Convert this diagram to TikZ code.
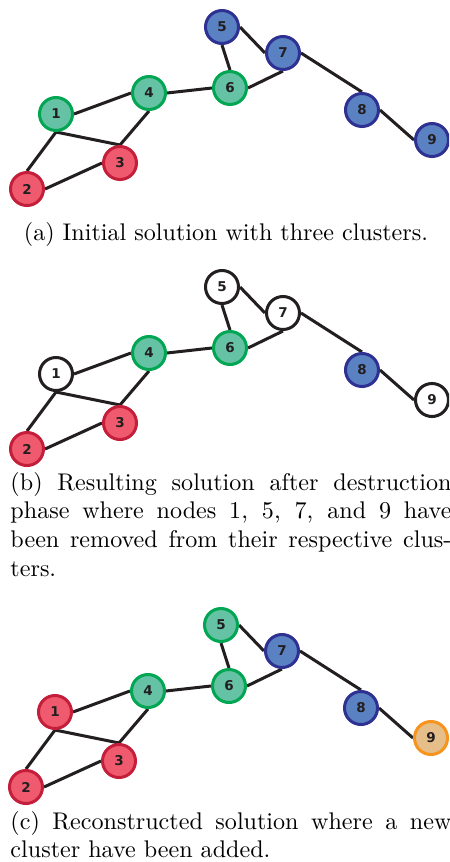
\documentclass[tikz,border=0pt]{standalone}
\usepackage{fontspec}
\newfontfamily\nodefont{DejaVu Sans}
\usetikzlibrary{backgrounds}
\definecolor{grnF}{HTML}{66C2A5}
\definecolor{grnD}{HTML}{00A651}
\definecolor{redF}{HTML}{EF5A6E}
\definecolor{redD}{HTML}{C41E3A}
\definecolor{bluF}{HTML}{5A82C3}
\definecolor{bluD}{HTML}{2E3192}
\definecolor{orgF}{HTML}{E5BE8A}
\definecolor{orgD}{HTML}{F7941D}
\definecolor{txt}{HTML}{231F20}
\tikzset{
  nd/.style={circle, draw, line width=1.25pt, inner sep=0pt, minimum size=13.7pt,
    font=\nodefont\bfseries\fontsize{5.6}{6}\selectfont, text=txt},
  G/.style={fill=grnF, draw=grnD},
  R/.style={fill=redF, draw=redD},
  B/.style={fill=bluF, draw=bluD},
  O/.style={fill=orgF, draw=orgD},
  W/.style={fill=white, draw=txt},
  edg/.style={line width=1.25pt, draw=txt},
  captxt/.style={inner sep=0pt, font=\normalsize},
  capw/.style={inner sep=0pt, font=\normalsize, text width=183pt, align=justify}
}
\newcommand{\clgraph}[1]{%
  \node[nd,s1] (#11) at (56,114) {1};
  \node[nd,s2] (#12) at (27,189) {2};
  \node[nd,s3] (#13) at (120,163) {3};
  \node[nd,s4] (#14) at (149,93) {4};
  \node[nd,s5] (#15) at (222,27) {5};
  \node[nd,s6] (#16) at (230,88) {6};
  \node[nd,s7] (#17) at (283,53) {7};
  \node[nd,s8] (#18) at (362,110) {8};
  \node[nd,s9] (#19) at (432,140) {9};
  \begin{pgfonlayer}{background}
  \draw[edg] (#11.east) -- (#14.west);
  \draw[edg] (#11.south) -- (#13.north);
  \draw[edg] (#11.south) -- (#12.north);
  \draw[edg] (#12.east) -- (#13.west);
  \draw[edg] (#14.south) -- (#13.north);
  \draw[edg] (#14.east) -- (#16.west);
  \draw[edg] (#15.south) -- (#16.north);
  \draw[edg] (#15.east) -- (#17.west);
  \draw[edg] (#16.east) -- (#17.south);
  \draw[edg] (#17.east) -- (#18.north);
  \draw[edg] (#18.east) -- (#19.west);
  \end{pgfonlayer}
}
\begin{document}
\begin{tikzpicture}[x=0.415pt, y=-0.415pt]
\useasboundingbox (0,0) rectangle (449,862);
\clip (0,0) rectangle (449,862);
\begin{scope}[s1/.style=G, s2/.style=R, s3/.style=R, s4/.style=G, s5/.style=B,
  s6/.style=G, s7/.style=B, s8/.style=B, s9/.style=B]
  \clgraph{a}
\end{scope}
\begin{scope}[shift={(0,260)}, s1/.style=W, s2/.style=R, s3/.style=R, s4/.style=G, s5/.style=W,
  s6/.style=G, s7/.style=W, s8/.style=B, s9/.style=W]
  \clgraph{b}
\end{scope}
\begin{scope}[shift={(-1,598)}, s1/.style=R, s2/.style=R, s3/.style=R, s4/.style=G, s5/.style=G,
  s6/.style=G, s7/.style=B, s8/.style=B, s9/.style=O]
  \clgraph{c}
\end{scope}
\node[captxt, anchor=base] (capa) at (226,240) {(a) Initial solution with three clusters.};
\node[capw, anchor=base west] (capb) at (10,490) {(b) Resulting solution after destruction\linebreak
  phase where nodes 1, 5, 7, and 9 have\linebreak been removed from their respective clus-\linebreak ters.};
\node[capw, anchor=base west] (capc) at (10,829) {(c) Reconstructed solution where a new\linebreak
  cluster have been added.};
\end{tikzpicture}
\end{document}
